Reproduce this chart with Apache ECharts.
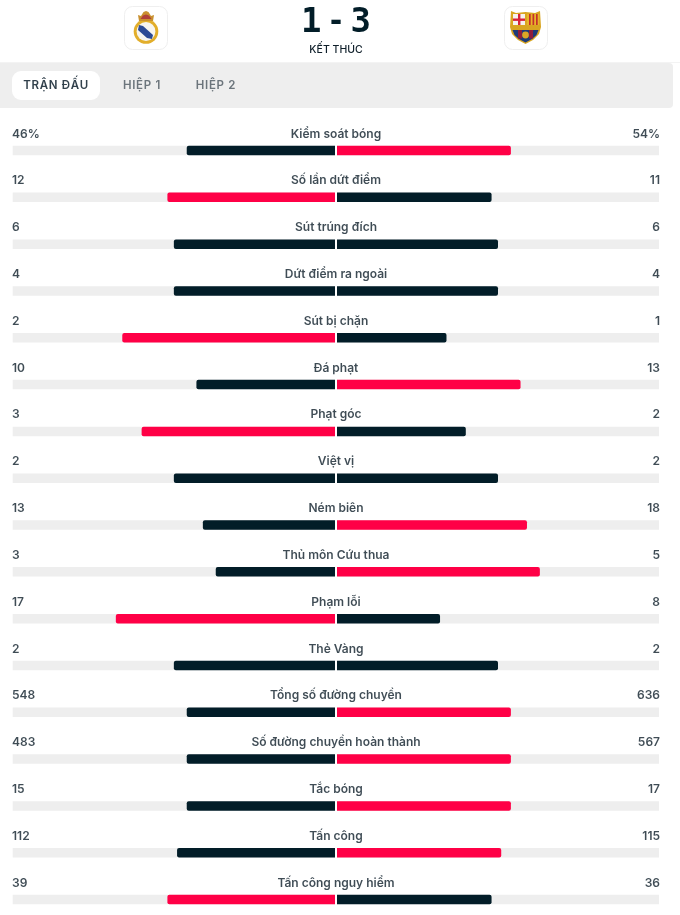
<!DOCTYPE html>
<html><head><meta charset="utf-8">
<style>html,body{margin:0;padding:0;background:#fff}#c{width:680px;height:915px}</style>
<script src="https://cdn.jsdelivr.net/npm/echarts@6/dist/echarts.min.js"></script>
</head><body><div id="c"></div>
<script>
const categories=['Kiểm soát bóng','Số lần dứt điểm','Sút trúng đích','Dứt điểm ra ngoài','Sút bị chặn','Đá phạt','Phạt góc','Việt vị','Ném biên','Thủ môn Cứu thua','Phạm lỗi','Thẻ Vàng','Tổng số đường chuyền','Số đường chuyền hoàn thành','Tắc bóng','Tấn công','Tấn công nguy hiểm'];
const homeLabels=['46%','12','6','4','2','10','3','2','13','3','17','2','548','483','15','112','39'];
const awayLabels=['54%','11','6','4','1','13','2','2','18','5','8','2','636','567','17','115','36'];
const homeShare=[46,52,50,50,66,43,60,50,41,37,68,50,46,46,46,49,52];
const awayShare=[54,48,50,50,34,57,40,50,59,63,32,50,54,54,54,51,48];
const tabs=['TRẬN ĐẤU','HIỆP 1','HIỆP 2'];
const DARK='#021d28',RED='#ff0046',TRACK='#eeeeee',TEXT='#0f1f2a',FONT='Inter';
const SPACED='11.5px';
const nativeFill=CanvasRenderingContext2D.prototype.fillText;
CanvasRenderingContext2D.prototype.fillText=function(t,x,y,m){
  this.letterSpacing=this.font.includes(SPACED)?'0.7px':'0px';
  return m===undefined?nativeFill.call(this,t,x,y):nativeFill.call(this,t,x,y,m);
};
const barData=(own,other,radius)=>own.map((v,i)=>({value:v,
  itemStyle:{color:v>other[i]?RED:DARK,borderRadius:radius}}));
const firstRowY=150.5,rowsSpan=749;
const gridBase={top:firstRowY,height:rowsSpan};
const yAxisBase={type:'category',data:categories,inverse:true,show:false,boundaryGap:false};
const xBase={type:'value',min:0,max:100,show:false};
const barBase={type:'bar',barWidth:9.5,showBackground:true,backgroundStyle:{color:TRACK},silent:true,clip:false};
const labelSeries=(x,text,align)=>({type:'scatter',xAxisIndex:2,yAxisIndex:2,symbolSize:1,silent:true,clip:false,
  itemStyle:{color:'transparent'},data:categories.map(c=>[x,c]),
  label:{show:true,position:'inside',formatter:p=>text[p.dataIndex],align,verticalAlign:'middle',offset:[0,-16.5],
    fontFamily:FONT,fontSize:12,fontWeight:600,color:TEXT}});
const poly=(points,fill)=>({type:'polygon',shape:{points},style:{fill}});
const rectS=(x,y,width,height,fill)=>({type:'rect',shape:{x,y,width,height},style:{fill}});
const crestRM=[
 {type:'circle',shape:{cx:146,cy:31.5,r:12.3},style:{fill:'#e2ae2b'}},
 {type:'circle',shape:{cx:146,cy:31.5,r:9.4},style:{fill:'#f7f5f0'}},
 poly([[139,25],[143,26],[153,35],[152,39],[147,38],[138,30]],'#2c4a94'),
 poly([[139,21],[138,15],[141,16],[143.5,12],[146,11],[148.5,12],[151,16],[154,15],[153,21]],'#c9902f'),
 poly([[140.5,19],[143,15.5],[146,14.5],[149,15.5],[151.5,19]],'#b0403a')
];
const crestB=[
 poly([[511,11],[516,13],[525.5,12],[535,13],[540,11],[541,27],[539,34],[533,40],[525.5,44],[518,40],[512,34],[510,27]],'#d9a520'),
 rectS(513,14,12,11,'#f5f2ee'),
 rectS(518,14,2.4,11,'#d8213a'),
 rectS(513,18.5,12,2.4,'#d8213a'),
 rectS(527,14,12,11,'#e9b52a'),
 rectS(529,14,1.7,11,'#c4302b'),
 rectS(532.5,14,1.7,11,'#c4302b'),
 rectS(536,14,1.7,11,'#c4302b'),
 poly([[512.5,30],[538.5,30],[536.5,35],[532,39],[525.5,42.5],[519,39],[514.5,35]],'#1d3a78'),
 rectS(518,30,4,8.5,'#8f1d3c'),
 rectS(529,30,4,8.5,'#8f1d3c'),
 {type:'circle',shape:{cx:525.5,cy:35,r:3.4},style:{fill:'#dca626'}}
];
const tabX=[56,142,216];
const graphic=[
 {type:'rect',shape:{x:124.5,y:6.5,width:43,height:43,r:8},style:{fill:'#fff',stroke:'#efefef',lineWidth:1}},
 {type:'rect',shape:{x:504.5,y:6.5,width:43,height:43,r:8},style:{fill:'#fff',stroke:'#efefef',lineWidth:1}},
 ...crestRM,...crestB,
 {type:'rect',shape:{x:0,y:62,width:680,height:1},style:{fill:'#f3f3f3'}},
 {type:'rect',shape:{x:0,y:63,width:673,height:45,r:[0,4,4,0]},style:{fill:TRACK}},
 {type:'rect',shape:{x:12,y:71,width:88,height:29,r:9},style:{fill:'#fff'}},
 {type:'text',x:336,y:23,style:{text:'{d|1} {h|-} {d|3}',align:'center',verticalAlign:'middle',fontSize:9,fontFamily:'DejaVu Sans Mono',
   rich:{d:{fontFamily:'DejaVu Sans Mono',fontWeight:700,fontSize:34,fill:DARK},h:{fontFamily:'DejaVu Sans Mono',fontWeight:700,fontSize:30,fill:DARK}}}},
 {type:'text',x:336,y:49.5,style:{text:'KẾT THÚC',align:'center',verticalAlign:'middle',fontFamily:FONT,fontSize:10.5,fontWeight:500,fill:TEXT}},
 ...tabs.map((t,i)=>({type:'text',x:tabX[i],y:86,style:{text:t,align:'center',verticalAlign:'middle',fontFamily:FONT,fontSize:11.5,fontWeight:600,fill:i?'#6c757c':'#32414c'}}))
];
const chart=echarts.init(document.getElementById('c'),null,{renderer:'canvas'});
chart.setOption({animation:false,backgroundColor:'#fff',tooltip:{show:false},
 grid:[{...gridBase,left:12.7,width:322.3},{...gridBase,left:337,width:322},{...gridBase,left:12,width:648}],
 xAxis:[{...xBase,gridIndex:0,inverse:true},{...xBase,gridIndex:1},{...xBase,gridIndex:2}],
 yAxis:[{...yAxisBase,gridIndex:0},{...yAxisBase,gridIndex:1},{...yAxisBase,gridIndex:2}],
 series:[
  {...barBase,xAxisIndex:0,yAxisIndex:0,data:barData(homeShare,awayShare,[2,0,0,2])},
  {...barBase,xAxisIndex:1,yAxisIndex:1,data:barData(awayShare,homeShare,[0,2,2,0])},
  labelSeries(0,homeLabels,'left'),
  labelSeries(50,categories,'center'),
  labelSeries(100,awayLabels,'right')
 ],
 graphic
});
</script></body></html>
